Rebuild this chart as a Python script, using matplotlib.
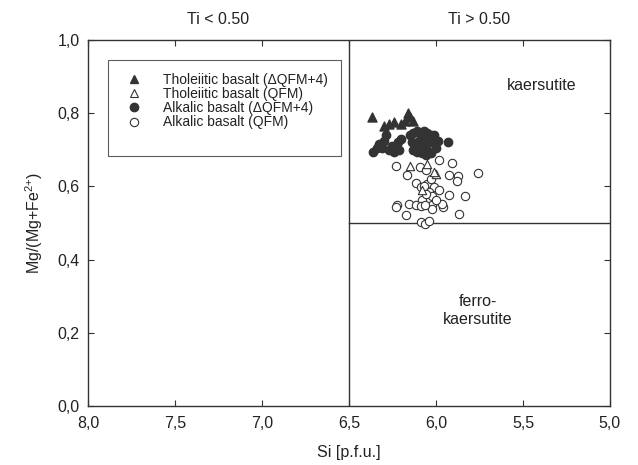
import matplotlib.pyplot as plt
from matplotlib.lines import Line2D

plt.rcParams['font.family'] = ['Liberation Sans', 'DejaVu Sans']
plt.rcParams['mathtext.default'] = 'regular'

# Tholeiitic basalt (dQFM+4) - filled triangles
tb4_si = [6.37, 6.30, 6.27, 6.24, 6.18, 6.16, 6.15, 6.13, 6.20]
tb4_mg = [0.790, 0.765, 0.770, 0.775, 0.780, 0.800, 0.790, 0.780, 0.770]

# Tholeiitic basalt (QFM) - open triangles
tbq_si = [6.15, 6.05, 6.00, 6.01, 6.08]
tbq_mg = [0.655, 0.660, 0.635, 0.640, 0.590]

# Alkalic basalt (dQFM+4) - filled circles
ab4_si = [6.36, 6.34, 6.33, 6.30, 6.29, 6.31, 6.27, 6.25, 6.24, 6.22, 6.20, 6.21,
          6.15, 6.13, 6.11, 6.09, 6.07, 6.05, 6.03, 6.01, 6.14, 6.12, 6.10, 6.08,
          6.06, 6.04, 6.02, 6.13, 6.11, 6.09, 6.07, 6.05, 6.03, 6.06, 6.08, 5.99,
          5.93, 6.00]
ab4_mg = [0.695, 0.705, 0.715, 0.725, 0.740, 0.705, 0.700, 0.710, 0.695, 0.720, 0.730, 0.700,
          0.740, 0.745, 0.750, 0.745, 0.750, 0.745, 0.740, 0.740, 0.720, 0.715, 0.725, 0.720,
          0.730, 0.725, 0.720, 0.700, 0.695, 0.700, 0.705, 0.700, 0.690, 0.685, 0.690, 0.725,
          0.720, 0.705]

# Alkalic basalt (QFM) - open circles
abq_si = [6.23, 6.09, 6.06, 5.98, 5.91, 5.76, 5.925, 5.875, 5.88, 6.165, 6.115, 6.05,
          6.01, 6.085, 6.04, 5.985, 6.02, 5.927, 5.833, 6.08, 6.155, 6.222, 6.228, 6.112,
          6.088, 6.025, 6.02, 5.962, 5.965, 5.997, 6.17, 5.87, 6.087, 6.062, 6.04, 6.065,
          6.03, 6.06, 6.07]
abq_mg = [0.657, 0.653, 0.646, 0.671, 0.665, 0.637, 0.630, 0.628, 0.615, 0.630, 0.608, 0.607,
          0.598, 0.598, 0.585, 0.589, 0.573, 0.577, 0.573, 0.562, 0.553, 0.548, 0.543, 0.550,
          0.546, 0.548, 0.538, 0.544, 0.553, 0.564, 0.521, 0.524, 0.503, 0.496, 0.505, 0.550,
          0.620, 0.580, 0.600]

x_ticks = [8.0, 7.5, 7.0, 6.5, 6.0, 5.5, 5.0]
x_labels = ['8,0', '7,5', '7,0', '6,5', '6,0', '5,5', '5,0']
y_ticks = [0.0, 0.2, 0.4, 0.6, 0.8, 1.0]
y_labels = ['0,0', '0,2', '0,4', '0,6', '0,8', '1,0']

dark = '#333333'
txt = '#222222'
fs = 11.5
fig = plt.figure(figsize=(6.38, 4.65), dpi=100)
ax = fig.add_axes([0.138, 0.127, 0.818, 0.787])

ax.axvline(6.5, color=dark, lw=1.0)
ax.plot([6.5, 5.0], [0.5, 0.5], color=dark, lw=1.0)

ms = 36
ax.scatter(abq_si, abq_mg, s=ms, marker='o', facecolors='white', edgecolors=dark, linewidths=0.8, zorder=3)
ax.scatter(tbq_si, tbq_mg, s=ms, marker='^', facecolors='white', edgecolors=dark, linewidths=0.8, zorder=4)
ax.scatter(ab4_si, ab4_mg, s=ms, marker='o', color=dark, zorder=5)
ax.scatter(tb4_si, tb4_mg, s=ms + 6, marker='^', color=dark, zorder=6)

ax.set_xlim(8.0, 5.0)
ax.set_ylim(0.0, 1.0)
ax.set_xticks(x_ticks)
ax.set_xticklabels(x_labels)
ax.set_yticks(y_ticks)
ax.set_yticklabels(y_labels)
ax.tick_params(direction='in', top=True, right=True, length=4, width=0.8,
               color=dark, labelsize=fs, labelcolor=txt)
ax.tick_params(axis='x', pad=7)
ax.tick_params(axis='y', pad=6)
for s in ax.spines.values():
    s.set_color(dark)
    s.set_linewidth(1.0)

ax.set_xlabel('Si [p.f.u.]', fontsize=fs, color=txt, labelpad=10)
ax.set_ylabel('Mg/(Mg+Fe$^{2{+}}$)', fontsize=fs, color=txt, labelpad=9)

ax.text(7.25, 1.035, 'Ti < 0.50', ha='center', va='bottom', fontsize=fs, color=txt)
ax.text(5.75, 1.035, 'Ti > 0.50', ha='center', va='bottom', fontsize=fs, color=txt)
ax.text(5.39, 0.875, 'kaersutite', ha='center', va='center', fontsize=fs, color=txt)
ax.text(5.76, 0.262, 'ferro-\nkaersutite', ha='center', va='center', fontsize=fs,
        color=txt, linespacing=1.25)

handles = [
    Line2D([], [], ls='', marker='^', ms=6, color=dark),
    Line2D([], [], ls='', marker='^', ms=6, mfc='white', mec=dark, mew=0.8),
    Line2D([], [], ls='', marker='o', ms=6, color=dark),
    Line2D([], [], ls='', marker='o', ms=6, mfc='white', mec=dark, mew=0.8),
    Line2D([], [], ls='', marker=''),
]
labels = ['Tholeiitic basalt (\u0394QFM+4)', 'Tholeiitic basalt (QFM)',
          'Alkalic basalt (\u0394QFM+4)', 'Alkalic basalt (QFM)', '']
leg = ax.legend(handles, labels, loc='upper left', bbox_to_anchor=(0.038, 0.945),
                fontsize=10, frameon=True, fancybox=False, borderpad=0.9,
                labelspacing=0.02, handletextpad=1.1, handlelength=2.0, borderaxespad=0)
leg.get_frame().set_edgecolor(dark)
leg.get_frame().set_linewidth(0.8)
for t in leg.get_texts():
    t.set_color(txt)

fig.savefig('out.png', dpi=100)
